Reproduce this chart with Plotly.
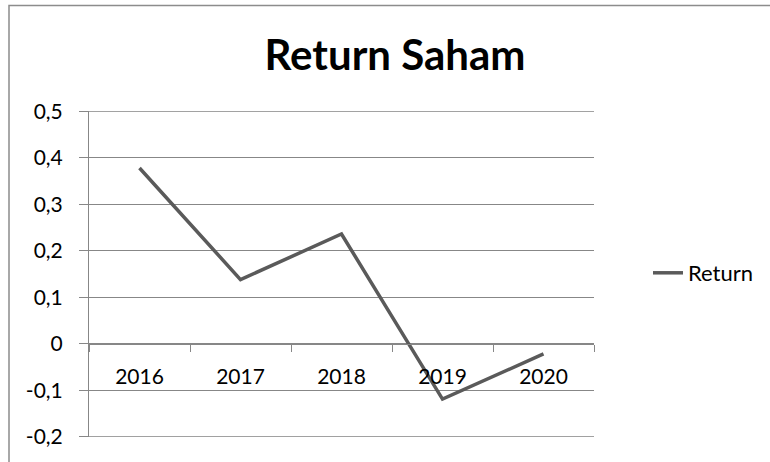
import plotly.graph_objects as go

years = ["2016", "2017", "2018", "2019", "2020"]
returns = [0.378, 0.138, 0.236, -0.119, -0.022]
y_tickvals = [-0.2, -0.1, 0, 0.1, 0.2, 0.3, 0.4, 0.5]
y_ticktext = ["-0,2", "-0,1", "0", "0,1", "0,2", "0,3", "0,4", "0,5"]
series_name = "Return"
title_text = "Return Saham"

W, H = 770, 462
L, R, T, B = 89, 176, 111, 25
pw, ph = W - L - R, H - T - B
grid = "#878787"
FONT = "Lato"
YMIN, YMAX = -0.2, 0.5
pad = 0.0006

def px_x(x):
    return (x - L) / pw

def px_y(y):
    return (H - B - y) / ph

fig = go.Figure()
fig.add_trace(go.Scatter(
    x=years, y=returns, mode="lines", name=series_name,
    line=dict(color="#5a5a5a", width=3.5),
))

edge_grid = [dict(type="line", xref="paper", yref="y", x0=0, x1=1, y0=v, y1=v,
                  line=dict(color=grid, width=1), layer="below")
             for v in (YMIN, YMAX)]

fig.update_layout(
    width=W, height=H,
    margin=dict(l=L, r=R, t=T, b=B, autoexpand=False),
    paper_bgcolor="white", plot_bgcolor="white",
    font=dict(family=FONT, size=21, color="#000000"),
    title=dict(text="<b>" + title_text + "</b>", x=395 / W, xanchor="center",
               y=1 - 55 / H, yanchor="middle", font=dict(family=FONT, size=42),
               automargin=False),
    showlegend=True,
    legend=dict(x=px_x(648), y=px_y(273), xanchor="left", yanchor="middle",
                font=dict(family=FONT, size=22), bgcolor="rgba(0,0,0,0)"),
    xaxis=dict(type="category", anchor="free", position=(0 - YMIN) / (YMAX - YMIN),
               range=[-0.5, 4.5], automargin=False,
               showline=True, linecolor=grid, linewidth=1, showgrid=False,
               ticks="outside", ticklen=7, tickcolor=grid, tickson="boundaries",
               ticklabelstandoff=14, zeroline=False),
    yaxis=dict(range=[YMIN - pad, YMAX + pad], tickvals=y_tickvals, ticktext=y_ticktext,
               automargin=False,
               showgrid=True, gridcolor=grid, gridwidth=1,
               showline=True, linecolor=grid, linewidth=1,
               ticks="outside", ticklen=9, tickcolor=grid,
               ticklabelstandoff=12, zeroline=False),
    shapes=[dict(type="rect", xref="paper", yref="paper",
                 x0=px_x(9), x1=px_x(780), y0=px_y(480), y1=px_y(5.5),
                 line=dict(color="#8c8c8c", width=1.5), fillcolor="rgba(0,0,0,0)", layer="below")]
           + edge_grid,
)

fig.write_html("out.html", config={"displayModeBar": False},
               post_script="document.body.style.margin='0px';document.body.style.overflow='hidden';")
